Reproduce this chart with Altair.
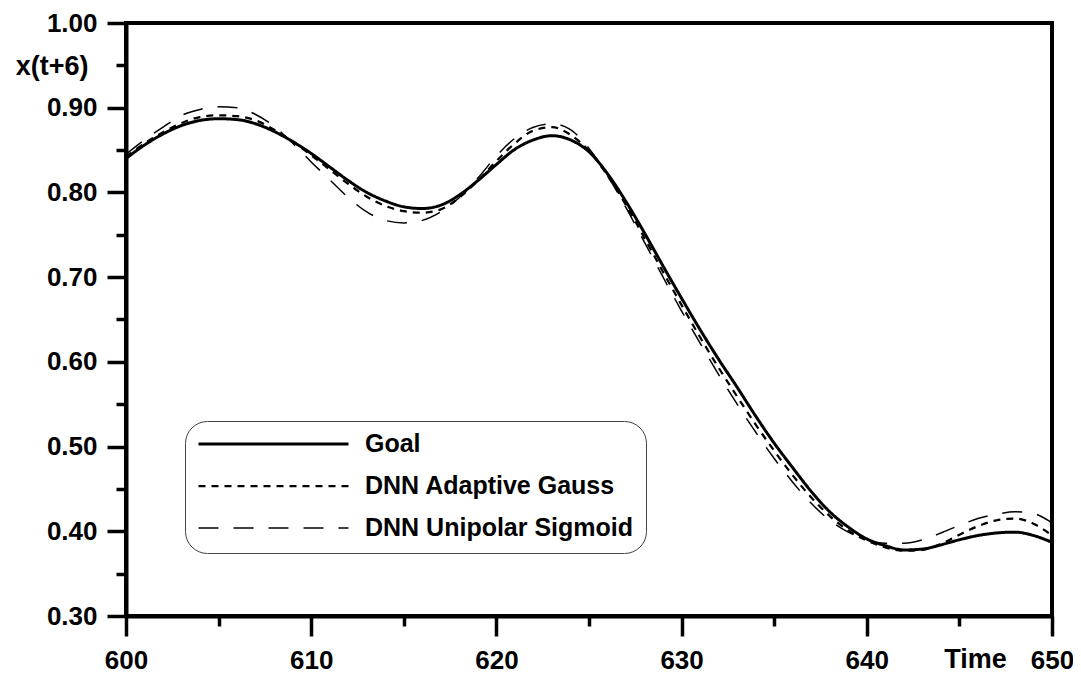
import altair as alt
import pandas as pd

time = list(range(600, 651))

goal = [0.840, 0.856, 0.869, 0.879, 0.885, 0.887, 0.886, 0.881, 0.872, 0.860,
        0.846, 0.830, 0.814, 0.800, 0.790, 0.783, 0.781, 0.785, 0.797, 0.814,
        0.833, 0.851, 0.862, 0.867, 0.862, 0.848, 0.822, 0.789, 0.752, 0.713,
        0.675, 0.638, 0.603, 0.570, 0.536, 0.504, 0.475, 0.447, 0.423, 0.405,
        0.391, 0.383, 0.378, 0.379, 0.384, 0.390, 0.395, 0.398, 0.399, 0.395,
        0.387]

adaptive_gauss = [0.842, 0.858, 0.871, 0.882, 0.889, 0.891, 0.890, 0.885, 0.874, 0.860,
                  0.844, 0.827, 0.810, 0.795, 0.784, 0.778, 0.776, 0.780, 0.794, 0.814,
                  0.837, 0.858, 0.873, 0.877, 0.868, 0.849, 0.820, 0.785, 0.746, 0.706,
                  0.667, 0.629, 0.593, 0.559, 0.526, 0.495, 0.466, 0.440, 0.418, 0.401,
                  0.389, 0.381, 0.377, 0.378, 0.385, 0.396, 0.406, 0.413, 0.415, 0.409,
                  0.395]

unipolar_sigmoid = [0.845, 0.862, 0.877, 0.891, 0.898, 0.901, 0.900, 0.892, 0.878, 0.858,
                    0.836, 0.815, 0.794, 0.777, 0.767, 0.764, 0.767, 0.777, 0.794, 0.817,
                    0.843, 0.864, 0.877, 0.881, 0.874, 0.852, 0.820, 0.782, 0.741, 0.700,
                    0.660, 0.622, 0.585, 0.550, 0.517, 0.486, 0.458, 0.433, 0.413, 0.399,
                    0.390, 0.386, 0.386, 0.390, 0.398, 0.407, 0.415, 0.420, 0.423, 0.421,
                    0.410]

series_names = ["Goal", "DNN Adaptive Gauss", "DNN Unipolar Sigmoid"]
x_major = [600, 610, 620, 630, 640, 650]
x_minor = [605, 615, 625, 635, 645]
y_major = [0.30, 0.40, 0.50, 0.60, 0.70, 0.80, 0.90, 1.00]
y_minor = [0.35, 0.45, 0.55, 0.65, 0.75, 0.85, 0.95]

rows = []
for name, vals in zip(series_names, [goal, adaptive_gauss, unipolar_sigmoid]):
    for t, v in zip(time, vals):
        rows.append({"t": t, "v": v, "series": name})
df = pd.DataFrame(rows)

FONT = "Liberation Sans"
AX = dict(labelFont=FONT, labelFontSize=26, labelFontWeight="bold", labelColor="black",
          titleFont=FONT, titleFontSize=27, titleFontWeight="bold", titleColor="black",
          domainColor="black", tickColor="black", grid=False)

xscale = alt.Scale(domain=[600, 650], nice=False, zero=False)
yscale = alt.Scale(domain=[0.3, 1.0], nice=False, zero=False)

main = alt.Chart(df).mark_line(interpolate="monotone", color="black").encode(
    x=alt.X("t:Q", scale=xscale,
            axis=alt.Axis(values=x_major, format="d", tickSize=20, tickWidth=3.5,
                          domainWidth=4, labelPadding=11, labelFlush=False,
                          labelOverlap=False,
                          title="Time", titleX=849, titleY=51, titleAlign="center",
                          titleBaseline="alphabetic", orient="bottom", **AX)),
    y=alt.Y("v:Q", scale=yscale,
            axis=alt.Axis(values=y_major, format=".2f", tickSize=19, tickWidth=3.5,
                          domainWidth=4, labelPadding=10, labelFlush=False,
                          labelOverlap=False,
                          title="x(t+6)", titleAngle=0, titleX=-38, titleY=43,
                          titleAlign="right", titleBaseline="middle", orient="left", **AX)),
    strokeDash=alt.StrokeDash(
        "series:N",
        scale=alt.Scale(domain=series_names, range=[[1, 0], [7, 6], [20, 15]]),
        legend=alt.Legend(title=None, orient="none", legendX=59, legendY=398,
                          symbolType="stroke", symbolSize=22500,
                          symbolStrokeColor="black", clipHeight=22,
                          rowPadding=17, labelOffset=15, padding=12,
                          labelFont=FONT, labelFontSize=25, labelFontWeight="bold",
                          labelColor="black",
                          labelLimit=500, fillColor="white", strokeColor="#444444",
                          cornerRadius=22)),
    strokeWidth=alt.StrokeWidth(
        "series:N",
        scale=alt.Scale(domain=series_names, range=[3, 1.5, 1.5]),
        legend=alt.Legend(title=None)),
    detail="series:N",
    order=alt.Order("t:Q"),
)

minor = alt.Chart(df).mark_line(opacity=0).encode(
    x=alt.X("t:Q", scale=xscale,
            axis=alt.Axis(values=x_minor, labels=False, tickSize=10, tickWidth=3.5,
                          domain=False, grid=False, title=None, orient="bottom",
                          tickColor="black")),
    y=alt.Y("v:Q", scale=yscale,
            axis=alt.Axis(values=y_minor, labels=False, tickSize=10, tickWidth=3.5,
                          domain=False, grid=False, title=None, orient="left",
                          tickColor="black")),
    detail="series:N",
)

chart = alt.layer(main, minor).resolve_axis(
    x="independent", y="independent"
).properties(
    width=926, height=593,
    background="white",
    autosize=alt.AutoSizeParams(type="none"),
    padding={"left": 118, "top": 15, "right": 21, "bottom": 57},
).configure_view(
    stroke="black", strokeWidth=4
)

chart.save("out.html", embed_options={"renderer": "svg", "actions": False})
